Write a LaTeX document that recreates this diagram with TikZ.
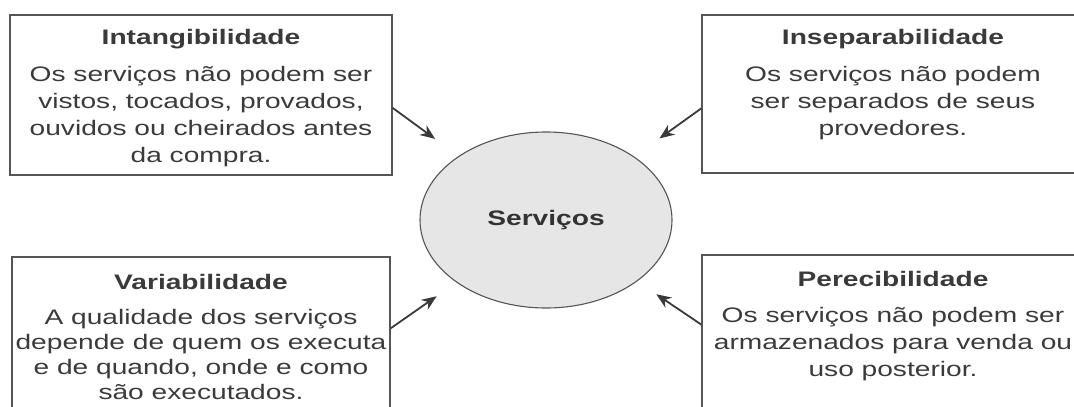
\documentclass[tikz,border=0pt]{standalone}
\usepackage{fontspec}
\setmainfont{Liberation Sans}[FakeStretch=1.34]
\usepackage{xcolor}
\usetikzlibrary{positioning, shapes.geometric, arrows.meta, calc}

\definecolor{inkgray}{HTML}{3A3A3A}
\definecolor{linegray}{HTML}{555555}
\definecolor{ballgray}{HTML}{E6E6E6}

\begin{document}
\begin{tikzpicture}[x=1pt,y=-1pt]
						\tikzstyle{frame}=[rectangle,draw=linegray,line width=1.4pt,minimum width=382pt,minimum height=160pt,inner sep=0pt]
						\tikzstyle{txt}=[align=center,inner sep=0pt,text=inkgray,font=\fontsize{21}{27}\selectfont]
						\tikzstyle{arr}=[-{Stealth[length=15pt,width=12pt]},draw=inkgray,line width=1.8pt]
						\useasboundingbox (0,0) rectangle (1074,407);
						\node[frame](intang) at (201,95){};
						\node[frame,minimum height=158pt](insep) at (893,94){};
						\node[frame,minimum width=378pt,minimum height=170pt](variab) at (201,342){};
						\node[frame,minimum height=170pt](perec) at (893,340){};
						\node[ellipse,draw=linegray,line width=1.1pt,fill=ballgray,minimum width=252pt,minimum height=176pt](serv) at (546,220){};
						\node[txt,font=\fontsize{21}{27}\selectfont\bfseries,text=black!80] at (serv){Serviços};
						% box texts
						\node[txt,below=15pt of intang.north](intangtxt){\textbf{Intangibilidade}\\[10pt]
							Os serviços não podem ser\\vistos, tocados, provados,\\ouvidos ou cheirados antes\\da compra.};
						\node[txt,below=15pt of insep.north](inseptxt){\textbf{Inseparabilidade}\\[10pt]
							Os serviços não podem\\ser separados de seus\\provedores.};
						\node[txt,font=\fontsize{21}{25}\selectfont,below=18pt of variab.north](variabtxt){\textbf{Variabilidade}\\[10pt]
							A qualidade dos serviços\\depende de quem os executa\\e de quando, onde e como\\são executados.};
						\node[txt,below=17pt of perec.north](perectxt){\textbf{Perecibilidade}\\[9pt]
							Os serviços não podem ser\\armazenados para venda ou\\uso posterior.};
						% arrow tails on the box sides
						\coordinate (a1) at ($(intang.north east)!0.58!(intang.south east)$);
						\coordinate (a2) at ($(insep.north west)!0.59!(insep.south west)$);
						\coordinate (a3) at ($(variab.north east)!0.42!(variab.south east)$);
						\coordinate (a4) at ($(perec.north west)!0.41!(perec.south west)$);
						\draw[arr,shorten >=29pt] (a1) -- (serv);
						\draw[arr,shorten >=31pt] (a2) -- (serv);
						\draw[arr,shorten >=24pt] (a3) -- (serv);
						\draw[arr,shorten >=23pt] (a4) -- (serv);
\end{tikzpicture}
\end{document}
